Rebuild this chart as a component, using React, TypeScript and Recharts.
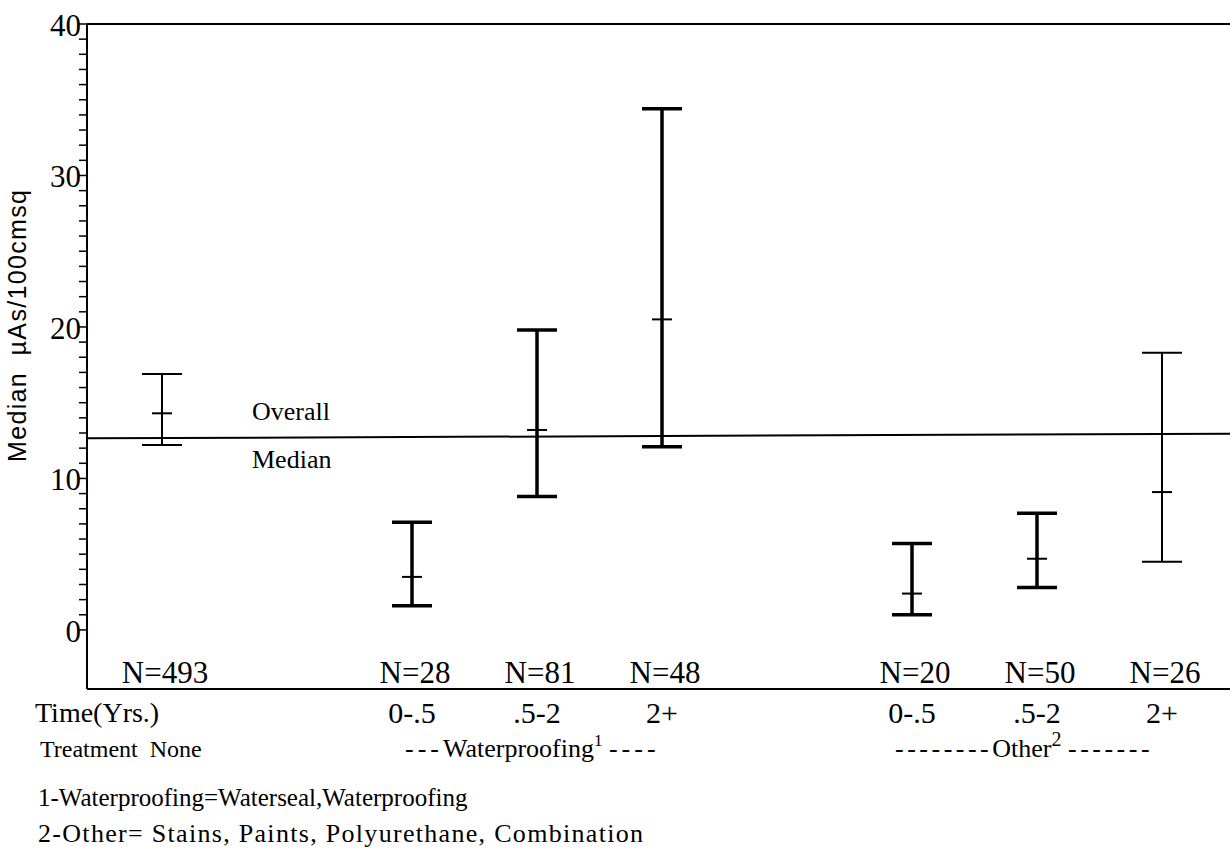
import { ComposedChart, ErrorBar, ReferenceLine, Scatter, XAxis, YAxis } from 'recharts';

// groups along the x axis (slot positions on a numeric scale)
const timeLabels = ['', '0-.5', '.5-2', '2+', '0-.5', '.5-2', '2+'];
const groupX = [0.6, 2.6, 3.6, 4.6, 6.6, 7.6, 8.6];
const sampleN = [493, 28, 81, 48, 20, 50, 26];

// median µAs/100cm² with low / high range
const rangeLow = [12.2, 1.6, 8.8, 12.1, 1.0, 2.8, 4.5];
const median = [14.3, 3.5, 13.2, 20.5, 2.4, 4.7, 9.1];
const rangeHigh = [16.9, 7.1, 19.8, 34.4, 5.7, 7.7, 18.3];
// overall median line (scanned original is slightly tilted)
const overallMedianLeft = 12.65;
const overallMedianRight = 12.95;

const majorTicks = [0, 10, 20, 30, 40];

const SERIF = '"Liberation Serif", "Times New Roman", serif';
const thinGroups = [0, 6]; // drawn with a lighter pen in the original

const rows = groupX.map((x, i) => ({
  x,
  y: median[i],
  err: [median[i] - rangeLow[i], rangeHigh[i] - median[i]],
}));
const thickRows = rows.filter((_, i) => !thinGroups.includes(i));
const thinRows = rows.filter((_, i) => thinGroups.includes(i));

const yTicks: number[] = [];
for (let v = 0; v <= 40; v++) yTicks.push(v);

const X_MAX = 9.144;

function YTick(props: any) {
  const { x, y, payload } = props;
  const major = majorTicks.includes(payload.value);
  return (
    <g>
      <line x1={x - 8} x2={x} y1={y} y2={y} stroke="#000" strokeWidth={1.5} />
      {major && (
        <text x={x - 6} y={y} dy={12} textAnchor="end" fontSize={31} fontFamily={SERIF} fill="#000">
          {payload.value}
        </text>
      )}
    </g>
  );
}

function XTick(props: any) {
  const { x, y, payload } = props;
  const i = groupX.indexOf(payload.value);
  if (i < 0) return null;
  return (
    <g>
      <text x={x + 3} y={y - 6} textAnchor="middle" fontSize={31} fontFamily={SERIF} fill="#000">
        {`N=${sampleN[i]}`}
      </text>
      {timeLabels[i] && (
        <text x={x} y={y + 34} textAnchor="middle" fontSize={30} fontFamily={SERIF} fill="#000">
          {timeLabels[i]}
        </text>
      )}
    </g>
  );
}

function MedianTick(props: any) {
  const { cx, cy } = props;
  return <line x1={cx - 10} x2={cx + 10} y1={cy} y2={cy} stroke="#000" strokeWidth={2} />;
}

export default function App() {
  return (
    <div style={{ position: 'absolute', left: 0, top: 0, width: 1230, height: 855, background: '#fff' }}>
      <ComposedChart width={1230} height={855} margin={{ top: 24, right: 0, bottom: 126, left: 0 }}>
        <XAxis
          type="number"
          dataKey="x"
          domain={[0, X_MAX]}
          ticks={groupX}
          interval={0}
          height={40}
          tickSize={0}
          tickMargin={0}
          tickLine={false}
          axisLine={{ stroke: '#000', strokeWidth: 2 }}
          tick={<XTick />}
        />
        <YAxis
          type="number"
          dataKey="y"
          domain={[-3.9, 40]}
          ticks={yTicks}
          interval={0}
          width={87}
          tickSize={0}
          tickMargin={0}
          tickLine={false}
          allowDataOverflow
          axisLine={{ stroke: '#000', strokeWidth: 2 }}
          tick={<YTick />}
        />
        <ReferenceLine y={40} stroke="#000" strokeWidth={2} />
        <ReferenceLine
          segment={[
            { x: 0, y: overallMedianLeft },
            { x: X_MAX, y: overallMedianRight },
          ]}
          stroke="#000"
          strokeWidth={2}
        />
        <Scatter data={thickRows} dataKey="y" shape={<MedianTick />} isAnimationActive={false}>
          <ErrorBar dataKey="err" direction="y" width={20} stroke="#000" strokeWidth={3.5} isAnimationActive={false} />
        </Scatter>
        <Scatter data={thinRows} dataKey="y" shape={<MedianTick />} isAnimationActive={false}>
          <ErrorBar dataKey="err" direction="y" width={20} stroke="#000" strokeWidth={2} isAnimationActive={false} />
        </Scatter>
      </ComposedChart>

      <svg
        width={1230}
        height={855}
        style={{ position: 'absolute', left: 0, top: 0, pointerEvents: 'none' }}
        fontFamily={SERIF}
        fill="#000"
      >
        <text
          x={19}
          y={326}
          transform="rotate(-90 19 326)"
          textAnchor="middle"
          dominantBaseline="middle"
          fontSize={25}
          textLength={272}
          lengthAdjust="spacing"
          fontFamily='"Liberation Sans Narrow", "Liberation Sans", Arial, sans-serif'
          xmlSpace="preserve"
        >
          Median  µAs/100cmsq
        </text>
        <text x={252} y={420} fontSize={26}>Overall</text>
        <text x={252} y={468} fontSize={26}>Median</text>

        <text x={35} y={722} fontSize={28}>Time(Yrs.)</text>
        <text x={40} y={757} fontSize={24} xmlSpace="preserve">Treatment  None</text>
        <text x={405} y={757} fontSize={26} xmlSpace="preserve">
          <tspan letterSpacing={4}>---</tspan>
          <tspan>Waterproofing</tspan>
          <tspan dy={-11} fontSize={17}>1</tspan>
          <tspan dy={11}> </tspan>
          <tspan letterSpacing={4}>----</tspan>
        </text>
        <text x={895} y={757} fontSize={26} xmlSpace="preserve">
          <tspan letterSpacing={3.5}>--------</tspan>
          <tspan>Other</tspan>
          <tspan dy={-11} fontSize={20}>2</tspan>
          <tspan dy={11}> </tspan>
          <tspan letterSpacing={3.5}>-------</tspan>
        </text>

        <text x={38} y={806} fontSize={25}>
          1-Waterproofing=Waterseal,Waterproofing
        </text>
        <text x={38} y={842} fontSize={26} textLength={605} lengthAdjust="spacing">
          2-Other= Stains, Paints, Polyurethane, Combination
        </text>
      </svg>
    </div>
  );
}
